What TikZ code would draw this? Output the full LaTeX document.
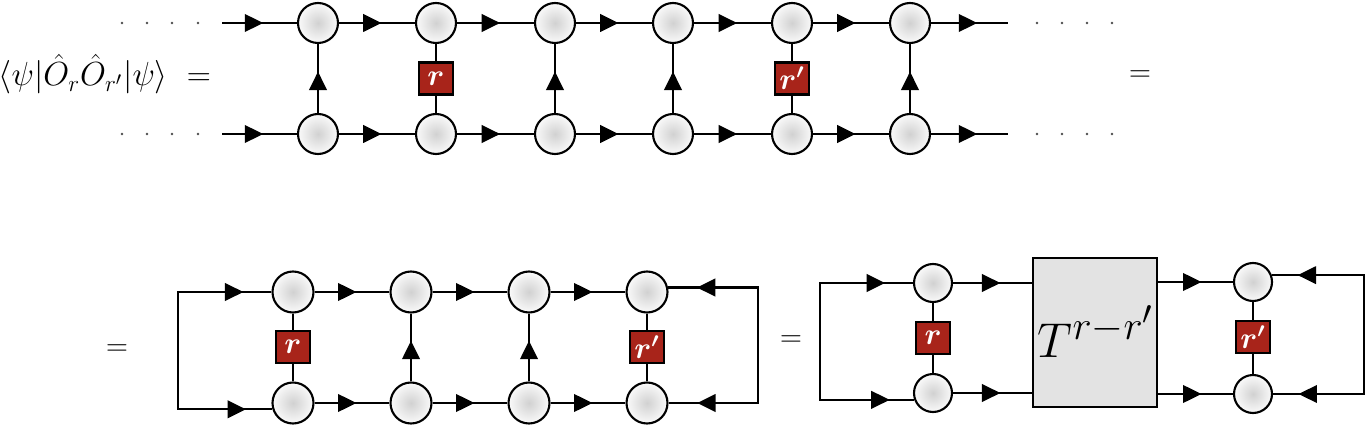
\documentclass[tikz,border=0pt]{standalone}
\usepackage{amsmath}
\usetikzlibrary{arrows.meta,decorations.markings}
\definecolor{opred}{RGB}{168,36,26}
\tikzset{
  site/.style={circle, draw, line width=1.2pt, minimum size=0.8cm, inner sep=0pt, inner color=gray!36, outer color=gray!4},
  obs/.style={rectangle, draw, line width=1.2pt, fill=opred, text=white, minimum width=0.68cm, minimum height=0.64cm, inner sep=0pt},
  tmat/.style={rectangle, draw, line width=1.2pt, fill=gray!22, minimum width=2.48cm, minimum height=2.98cm},
  flow/.style={postaction={decorate}, decoration={markings, mark=at position #1 with {\arrow{Triangle[length=10.5pt,width=10pt]}}}},
  flow/.default=0.56,
}
\begin{document}
\begin{tikzpicture}[x=0.02cm, y=-0.02cm, line width=1.2pt, font=\LARGE]
  \useasboundingbox (0,0) rectangle (1371,425);
  % first line: the infinite chain
  \node[anchor=base east, inner sep=0pt] (lhs) at (212,86) {\scalebox{1.1}{$\langle\psi|\hat{O}_r\hat{O}_{r'}|\psi\rangle\hspace{5pt}=$}};
  \foreach \i/\x in {1/318,2/436,3/555,4/673,5/792,6/910} {
    \node[site] (t\i) at (\x,23) {};
    \node[site] (b\i) at (\x,134) {};
    }
  \foreach \x in {122,147,172,198,1037,1062,1087,1112} {
    \fill[black!70] (\x,23) circle (0.75pt) (\x,134) circle (0.75pt);
    }
  \coordinate (tin) at (222,23);
  \coordinate (bin) at (222,134);
  \coordinate (tout) at (1008,23);
  \coordinate (bout) at (1008,134);
  \draw[flow=0.55] (tin) -- (t1);
  \draw[flow=0.55] (bin) -- (b1);
  \draw[flow=0.6] (t6) -- (tout);
  \draw[flow=0.6] (b6) -- (bout);
  \foreach[evaluate=\i as \j using int(\i+1)] \i in {1,...,5} {
    \draw[flow] (t\i) -- (t\j);
    \draw[flow] (b\i) -- (b\j);
    }
  \foreach \i in {1,3,4,6} {
    \draw[flow=0.6] (b\i) -- (t\i);
    }
  \node[obs] (o2) at (436,78.5) {$\boldsymbol{r}$};
  \node[obs] (o5) at (792,78.5) {$\boldsymbol{r'}$};
  \draw (t2) -- (o2) -- (b2);
  \draw (t5) -- (o5) -- (b5);
  \node (eqA) at (1140,76) {$=$};

  % second line: closed with the boundaries
  \node (eqB) at (117,350) {$=$};
  \foreach \i/\x in {1/293,2/411,3/529,4/647} {
    \node[site, minimum size=0.82cm] (mt\i) at (\x,292) {};
    \node[site, minimum size=0.82cm] (mb\i) at (\x,403) {};
    }
  \node[obs] (mo1) at (293,347) {$\boldsymbol{r}$};
  \node[obs] (mo4) at (647,347) {$\boldsymbol{r'}$};
  \draw (mt1) -- (mo1) -- (mb1);
  \draw (mt4) -- (mo4) -- (mb4);
  \foreach \i in {2,3} {
    \draw[flow=0.6] (mb\i) -- (mt\i);
    }
  \foreach[evaluate=\i as \j using int(\i+1)] \i in {1,2,3} {
    \draw[flow] (mt\i) -- (mt\j);
    \draw[flow] (mb\i) -- (mb\j);
    }
  \coordinate (ml) at (178,292);
  \coordinate (mr) at (758,350);
  \draw (mt1) -- (ml) |- (mb1.197);
  \draw[flow=0.7] (ml) -- (mt1);
  \draw[flow=0.72] (ml |- mb1.197) -- (mb1.197);
  \draw (mt4.12) -| (mr) |- (mb4);
  \draw[flow=0.68] (mr |- mt4.12) -- (mt4.12);
  \draw[flow=0.68] (mr |- mb4) -- (mb4);

  % transfer matrix between the two operators
  \node (eqC) at (791,341) {$=$};
  \node[site, minimum size=0.76cm] (rt1) at (933,283) {};
  \node[site, minimum size=0.76cm] (rb1) at (933,393) {};
  \node[obs] (ro1) at (933,338) {$\boldsymbol{r}$};
  \node[tmat] (T) at (1095,332.5) {};
  \node[font=\Huge, anchor=base] (tlab) at (1096,357) {\scalebox{1.12}{$T^{r-r'}$}};
  \node[site, minimum size=0.76cm] (rt2) at (1253,282) {};
  \node[site, minimum size=0.76cm] (rb2) at (1253,394) {};
  \node[obs] (ro2) at (1253,337) {$\boldsymbol{r'}$};
  \draw (rt1) -- (ro1) -- (rb1);
  \draw (rt2) -- (ro2) -- (rb2);
  \draw[flow=0.6] (rt1) -- (rt1 -| T.west);
  \draw[flow=0.6] (rb1) -- (rb1 -| T.west);
  \draw[flow=0.58] (T.east |- rt2) -- (rt2);
  \draw[flow=0.58] (T.east |- rb2) -- (rb2);
  \coordinate (rl) at (820,283);
  \coordinate (rr) at (1364,338);
  \draw (rt1) -- (rl) |- (rb1.200);
  \draw[flow=0.7] (rl) -- (rt1);
  \draw[flow=0.74] (rl |- rb1.200) -- (rb1.200);
  \draw (rt2.20) -| (rr) |- (rb2);
  \draw[flow=0.72] (rr |- rt2.20) -- (rt2.20);
  \draw[flow=0.72] (rr |- rb2) -- (rb2);
\end{tikzpicture}
\end{document}
